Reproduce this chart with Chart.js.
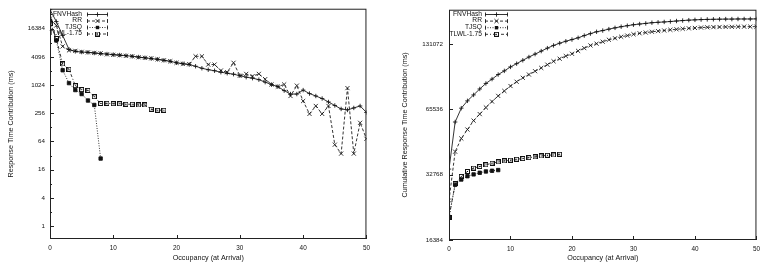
<!DOCTYPE html>
<html><head><meta charset="utf-8">
<script src="https://cdn.jsdelivr.net/npm/chart.js@4.4.0/dist/chart.umd.min.js"></script>
<style>
html,body{margin:0;padding:0;background:#fff;width:765px;height:272px;overflow:hidden}
canvas{position:absolute;top:0}
#c1{left:0}
#c2{left:385px}
</style></head><body>
<canvas id="c1" width="375" height="272"></canvas>
<canvas id="c2" width="380" height="272"></canvas>
<script>
// ---------- data ----------
const seriesNames = ['FNVHash', 'RR', 'TJSQ', 'TLWL-1.75'];
const occupancy = [0,1,2,3,4,5,6,7,8,9,10,11,12,13,14,15,16,17,18,19,20,21,22,23,24,25,26,27,28,29,30,31,32,33,34,35,36,37,38,39,40,41,42,43,44,45,46,47,48,49,50];

// left: response time contribution (ms)
const fnvContribution = [41480,23170,11670,5914,5350,5170,5097,4926,4785,4690,4555,4470,4340,4195,4054,3897,3748,3623,3450,3286,3053,2908,2798,2575,2335,2171,2067,1921,1829,1743,1619,1505,1434,1332,1180,1044,946,779,657,657,798,673,597,527,445,375,316,301,332,366,266];
const rrContribution = [26770,19090,6832,5620,5485,5222,5097,4975,4856,4626,4514,4406,4297,4195,3992,3897,3803,3623,3450,3286,3053,2908,2839,4195,4195,2798,2798,2087,1921,3053,1619,1768,1580,1768,1365,1054,946,1054,597,993,467,248,366,248,366,54.6,35.2,880,35.2,160,73];
const tjsqContribution = [24280,9150,2118,1124,799,657,478,384,27.6];
const tlwlContribution = [20970,10085,2880,2224,993,818,787,576,413,417,409,409,398,398,384,384,312,297,297];

// right: cumulative response time contribution (ms)
const fnvCumulative = [34790,57360,66440,71810,76480,81460,86380,90470,94950,98710,102960,106590,110450,114360,117980,121800,125670,129320,132430,135230,137660,140260,143600,146640,149530,151470,153800,155880,157830,159480,161150,162360,163410,164650,165360,166000,166740,167650,168460,169170,169720,170190,170520,170700,170900,171100,171100,171300,171300,171300,171500];
const rrCumulative = [24940,41860,48170,52950,58200,62390,66920,71290,75690,79760,84050,87940,91730,94950,98390,101860,105440,109300,112310,115550,118370,122050,125670,129320,131800,134570,137380,139580,141800,143600,145620,147150,148270,149530,150600,151600,152700,153500,154400,155100,155700,156400,156800,157100,157300,157500,157600,157800,157900,157900,157900];
const tjsqCumulative = [20930,29430,31150,32260,32880,33460,33930,34170,34430];
const tlwlCumulative = [20870,29720,32190,33930,35170,35750,36400,37050,37560,37960,38240,38640,38880,39290,39590,40000,40290,40420,40730];

// ticks
const xTicks = [0,10,20,30,40,50];
const leftYMajor = [1,4,16,64,256,1024,4096,16384];
const leftYMinor = [2,8,32,128,512,2048,8192,32768];
const rightYMajor = [16384,32768,65536,131072];

const xTitle = 'Occupancy (at Arrival)';
const leftYTitle = 'Response Time Contribution (ms)';
const rightYTitle = 'Cumulative Response Time Contribution (ms)';

// ---------- styles ----------
const FONT = '"Liberation Sans", Arial, Helvetica, sans-serif';
Chart.defaults.font.family = FONT;
Chart.defaults.color = '#111';

function openSquareDot() {
  const c = document.createElement('canvas');
  c.width = 5; c.height = 5;
  const g = c.getContext('2d');
  g.strokeStyle = '#111'; g.lineWidth = 1;
  g.strokeRect(0.5, 0.5, 4, 4);
  g.fillStyle = '#111';
  g.fillRect(2, 2, 1, 1);
  return c;
}
const tlwlMarker = openSquareDot();

const styles = [
  {borderDash: [], pointStyle: 'cross', pointRadius: 2.2},
  {borderDash: [3, 2], pointStyle: 'crossRot', pointRadius: 2.9},
  {borderDash: [1, 1.5], pointStyle: 'rect', pointRadius: 2.4, fill: true},
  {borderDash: [3, 2, 1, 2], pointStyle: tlwlMarker, pointRadius: 2.5},
];

function makeDataset(i, values) {
  const s = styles[i];
  return {
    label: seriesNames[i],
    data: values.map((v, k) => ({x: occupancy[k], y: v})),
    borderColor: '#111',
    backgroundColor: s.fill ? '#111' : '#fff',
    borderWidth: 0.85,
    borderDash: s.borderDash,
    pointStyle: s.pointStyle,
    pointRadius: s.pointRadius,
    pointBorderWidth: 0.85,
    pointBorderColor: '#111',
    pointBackgroundColor: s.fill ? '#111' : '#fff',
    tension: 0,
    fill: false,
  };
}

function drawMarker(ctx, style, r, x, y) {
  ctx.save();
  ctx.setLineDash([]);
  ctx.lineWidth = 0.85;
  ctx.strokeStyle = '#111'; ctx.fillStyle = '#111';
  if (style === 'cross') {
    ctx.beginPath(); ctx.moveTo(x - r, y); ctx.lineTo(x + r, y); ctx.moveTo(x, y - r); ctx.lineTo(x, y + r); ctx.stroke();
  } else if (style === 'crossRot') {
    const d = r * Math.SQRT1_2;
    ctx.beginPath(); ctx.moveTo(x - d, y - d); ctx.lineTo(x + d, y + d); ctx.moveTo(x + d, y - d); ctx.lineTo(x - d, y + d); ctx.stroke();
  } else if (style === 'rect') {
    const s = r * Math.SQRT1_2;
    ctx.fillRect(x - s, y - s, 2 * s, 2 * s);
  } else {
    ctx.drawImage(style, x - style.width / 2, y - style.height / 2);
  }
  ctx.restore();
}

const gnuplotFrame = {
  id: 'gnuplotFrame',
  afterDatasetsDraw(chart, args, opts) {
    const ctx = chart.ctx, a = chart.chartArea;
    ctx.save();
    ctx.strokeStyle = '#222';
    ctx.lineWidth = 1;
    ctx.setLineDash([]);
    ctx.strokeRect(a.left + 0.5, a.top + 0.5, a.right - a.left - 1, a.bottom - a.top - 1);
    // inward ticks
    const ys = chart.scales.y, xs = chart.scales.x;
    ctx.beginPath();
    ys.ticks.forEach(t => {
      const py = Math.round(ys.getPixelForValue(t.value)) + 0.5;
      const len = opts.majorY.includes(t.value) ? 4 : 2;
      ctx.moveTo(a.left, py); ctx.lineTo(a.left + len, py);
    });
    xs.ticks.forEach(t => {
      const px = Math.round(xs.getPixelForValue(t.value)) + 0.5;
      ctx.moveTo(px, a.bottom); ctx.lineTo(px, a.bottom - 4);
    });
    ctx.stroke();
    // legend
    const L = opts.legend;
    ctx.font = L.size + 'px ' + FONT;
    ctx.fillStyle = '#111';
    ctx.textAlign = 'right';
    ctx.textBaseline = 'middle';
    chart.data.datasets.forEach((ds, i) => {
      const y = L.y0 + i * L.dy;
      ctx.fillText(ds.label, L.textRight, y);
      ctx.save();
      ctx.lineWidth = 0.85;
      ctx.strokeStyle = '#111';
      ctx.setLineDash(ds.borderDash);
      ctx.beginPath(); ctx.moveTo(L.s1, y + 0.5); ctx.lineTo(L.s2, y + 0.5); ctx.stroke();
      ctx.setLineDash([]);
      ctx.beginPath();
      ctx.moveTo(L.s1 + 0.5, y - 1.5); ctx.lineTo(L.s1 + 0.5, y + 2.5);
      ctx.moveTo(L.s2 - 0.5, y - 1.5); ctx.lineTo(L.s2 - 0.5, y + 2.5);
      ctx.stroke();
      ctx.restore();
      drawMarker(ctx, ds.pointStyle, ds.pointRadius, (L.s1 + L.s2) / 2, y + 0.5);
    });
    ctx.restore();
  }
};

function makeChart(id, datasets, cfg) {
  return new Chart(document.getElementById(id), {
    type: 'line',
    data: {datasets},
    plugins: [gnuplotFrame],
    options: {
      responsive: false,
      animation: false,
      devicePixelRatio: 1,
      layout: {padding: {top: cfg.top, right: cfg.right, left: 0, bottom: 0}},
      plugins: {
        legend: {display: false},
        tooltip: {enabled: false},
        gnuplotFrame: {majorY: cfg.majorY, legend: cfg.legend},
      },
      scales: {
        x: {
          type: 'linear', min: 0, max: 50,
          afterBuildTicks: s => { s.ticks = xTicks.map(v => ({value: v})); },
          afterFit: s => { s.height = cfg.xHeight; },
          grid: {display: false, drawTicks: false},
          border: {display: false},
          ticks: {autoSkip: false, maxRotation: 0, padding: cfg.xTickPad, font: {size: 6.4}, callback: v => String(v)},
          title: {display: true, text: xTitle, font: {size: 7.2}, padding: {top: 0, bottom: cfg.xTitlePad}},
        },
        y: {
          type: 'logarithmic', min: cfg.ymin, max: cfg.ymax,
          afterBuildTicks: s => { s.ticks = cfg.yTicks.map(v => ({value: v})); },
          afterFit: s => { s.width = cfg.yWidth; },
          grid: {display: false, drawTicks: false},
          border: {display: false},
          ticks: {autoSkip: false, padding: cfg.yTickPad, font: {size: 6.2},
                  callback: v => cfg.majorY.includes(v) ? String(v) : ''},
          title: {display: true, text: cfg.yTitle, font: {size: 7.2}, padding: {top: cfg.yTitlePad, bottom: 0}},
        },
      },
    },
  });
}

makeChart('c1', [
  makeDataset(0, fnvContribution),
  makeDataset(1, rrContribution),
  makeDataset(2, tjsqContribution),
  makeDataset(3, tlwlContribution),
], {
  top: 7, right: 8, xHeight: 33, yWidth: 50,
  ymin: 0.53, ymax: 43500,
  yTicks: leftYMajor.concat(leftYMinor).sort((a, b) => a - b),
  majorY: leftYMajor,
  yTitle: leftYTitle, yTitlePad: 6.5, yTickPad: 5, xTickPad: 5, xTitlePad: 9.8,
  legend: {size: 6.7, textRight: 82, s1: 87, s2: 108, y0: 14, dy: 6.5},
});

makeChart('c2', [
  makeDataset(0, fnvCumulative),
  makeDataset(1, rrCumulative),
  makeDataset(2, tjsqCumulative),
  makeDataset(3, tlwlCumulative),
], {
  top: 7, right: 4, xHeight: 32, yWidth: 64,
  ymin: 16384, ymax: 189000,
  yTicks: rightYMajor,
  majorY: rightYMajor,
  yTitle: rightYTitle, yTitlePad: 15.3, yTickPad: 6, xTickPad: 5, xTitlePad: 9.8,
  legend: {size: 6.7, textRight: 97, s1: 100, s2: 123, y0: 14, dy: 6.6},
});
</script>
</body></html>
